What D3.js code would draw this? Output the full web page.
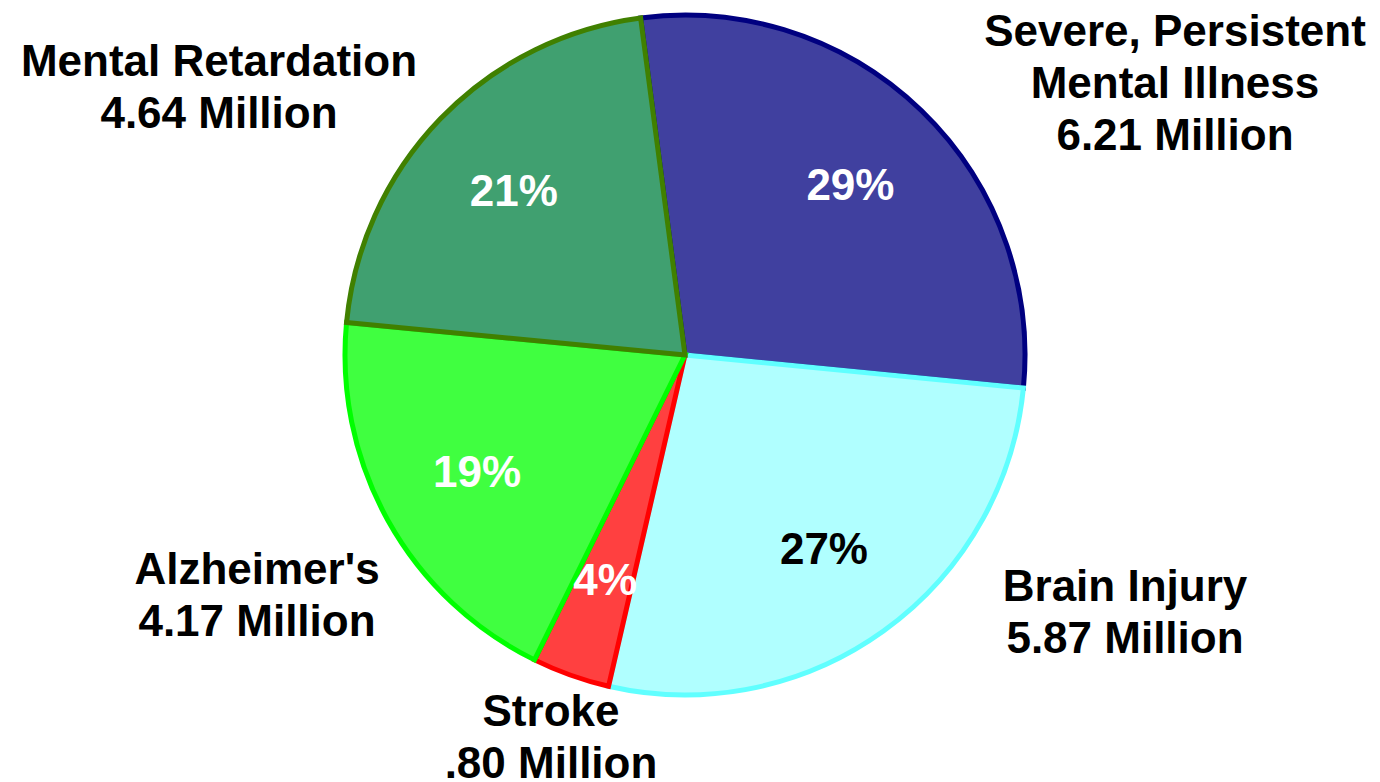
<!DOCTYPE html>
<html><head><meta charset="utf-8">
<script src="https://cdn.jsdelivr.net/npm/d3@7"></script>
<style>body{margin:0;background:#fff}svg{display:block}</style>
</head><body>
<svg id="c" width="1380" height="782"></svg>
<script>
const categories = ["Severe, Persistent Mental Illness","Brain Injury","Stroke","Alzheimer's","Mental Retardation"];
const values = [6.21, 5.87, 0.80, 4.17, 4.64];
const percentLabels = ["29%","27%","4%","19%","21%"];
const nameLines = [["Severe, Persistent","Mental Illness","6.21 Million"],["Brain Injury","5.87 Million"],["Stroke",".80 Million"],["Alzheimer's","4.17 Million"],["Mental Retardation","4.64 Million"]];
const fills = ["#40409f","#b0ffff","#ff4040","#40ff40","#40a070"];
const borders = ["#000080","#60ffff","#ff0000","#00ff00","#408000"];
const pctColors = ["#fff","#000","#fff","#fff","#fff"];
const labelPos = [[1175,46],[1125,601],[551,726],[257,584],[219,76]];

const svg = d3.select("#c");
const cx = 685, cy = 355, R = 340;
const start = -7.5*Math.PI/180;
const pie = d3.pie().sort(null).startAngle(start).endAngle(start+2*Math.PI);
const arcs = pie(values);
const arc = d3.arc().innerRadius(0).outerRadius(R);
const g = svg.append("g").attr("transform",`translate(${cx},${cy})`);
g.selectAll("path").data(arcs).join("path")
  .attr("d",arc).attr("fill",(d,i)=>fills[i]).attr("stroke",(d,i)=>borders[i])
  .attr("stroke-width",5).attr("stroke-linejoin","miter");
const lab = d3.arc().innerRadius(238).outerRadius(238);
g.selectAll("text.p").data(arcs).join("text").attr("class","p")
  .attr("transform",d=>`translate(${lab.centroid(d)})`)
  .attr("text-anchor","middle").attr("dy","0.36em")
  .attr("font-family","Liberation Sans, Arial, sans-serif").attr("font-weight","bold")
  .attr("font-size",44).attr("fill",(d,i)=>pctColors[i]).text((d,i)=>percentLabels[i]);
nameLines.forEach((lines,i)=>{
  const t = svg.append("text").attr("text-anchor","middle")
    .attr("font-family","Liberation Sans, Arial, sans-serif").attr("font-weight","bold")
    .attr("font-size",44).attr("fill","#000");
  lines.forEach((l,j)=>t.append("tspan").attr("x",labelPos[i][0]).attr("y",labelPos[i][1]+j*52).text(l));
});
</script>
</body></html>
